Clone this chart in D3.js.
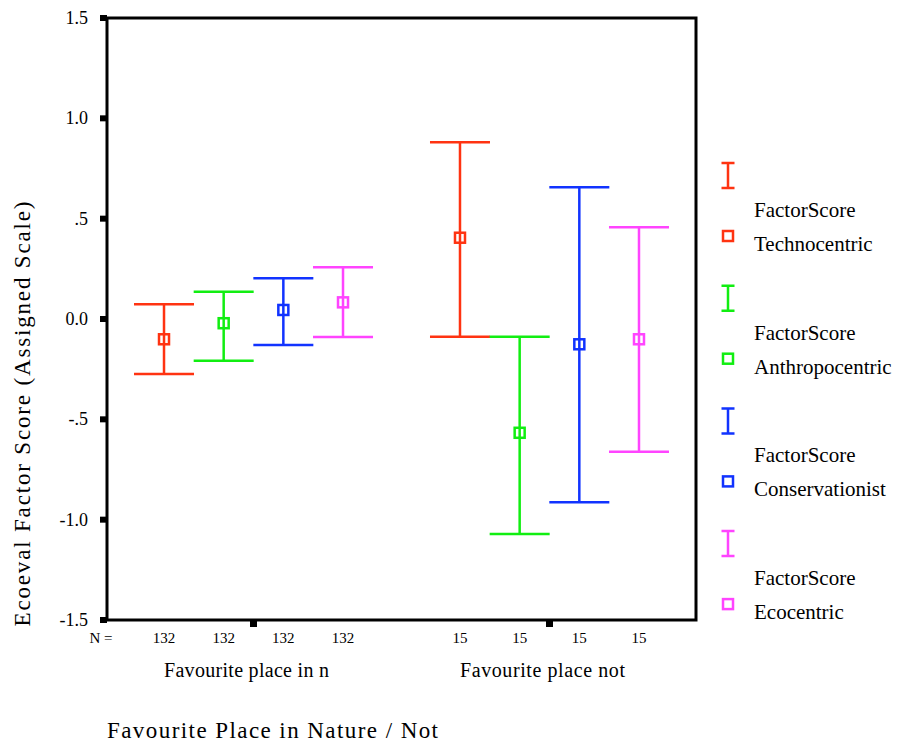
<!DOCTYPE html>
<html>
<head>
<meta charset="utf-8">
<script src="https://cdn.jsdelivr.net/npm/d3@7"></script>
<style>
  body { margin: 0; background: #fff; }
</style>
</head>
<body>
<svg class="chart"></svg>
<script>
const width = 898;
const height = 744;

// data
const groups = ['Favourite place in n', 'Favourite place not'];
const groupN = [132, 15];
const series = ['Technocentric', 'Anthropocentric', 'Conservationist', 'Ecocentric'];
const colors = ['#ff3311', '#11ee11', '#1133ff', '#ff44ff'];
const means = [[-0.101, -0.021, 0.045, 0.083], [0.405, -0.567, -0.126, -0.101]];
const lower = [[-0.274, -0.208, -0.130, -0.090], [-0.088, -1.071, -0.913, -0.661]];
const upper = [[0.073, 0.136, 0.203, 0.258], [0.881, -0.088, 0.656, 0.457]];
const yTicks = [1.5, 1.0, 0.5, 0.0, -0.5, -1.0, -1.5];
const yTickLabels = ['1.5', '1.0', '.5', '0.0', '-.5', '-1.0', '-1.5'];

const plotL = 107, plotR = 696, plotT = 18, plotB = 620;
const serif = '"Liberation Serif", "Times New Roman", serif';

const chart = d3.select('.chart')
    .attr('width', width)
    .attr('height', height);

const yScale = d3.scaleLinear()
    .domain([-1.5, 1.5])
    .range([plotB, plotT]);

const xGroup = d3.scalePoint()
    .domain(groups)
    .range([plotL, plotR])
    .padding(0.495);

const xInner = d3.scalePoint()
    .domain(series)
    .range([-89.5, 89.5]);

const capW = 60;

/*----- frame + ticks ------*/
chart.append('rect')
    .attr('x', plotL).attr('y', plotT)
    .attr('width', plotR - plotL).attr('height', plotB - plotT)
    .attr('fill', 'none')
    .attr('stroke', '#000')
    .attr('stroke-width', 3);

chart.append('g')
    .selectAll('line')
    .data(yTicks)
    .enter()
    .append('line')
    .attr('x1', plotL - 7).attr('x2', plotL)
    .attr('y1', d => yScale(d)).attr('y2', d => yScale(d))
    .attr('stroke', '#000')
    .attr('stroke-width', 6);

chart.append('g')
    .selectAll('text')
    .data(yTicks)
    .enter()
    .append('text')
    .attr('x', 88)
    .attr('y', d => yScale(d) + 6)
    .attr('text-anchor', 'end')
    .style('font-family', serif)
    .style('font-size', '18px')
    .text((d, i) => yTickLabels[i]);

chart.append('g')
    .selectAll('line')
    .data(groups)
    .enter()
    .append('line')
    .attr('x1', d => xGroup(d)).attr('x2', d => xGroup(d))
    .attr('y1', plotB).attr('y2', plotB + 7)
    .attr('stroke', '#000')
    .attr('stroke-width', 7);

// N = counts
chart.append('text')
    .attr('x', 101).attr('y', 643)
    .attr('text-anchor', 'middle')
    .style('font-family', serif)
    .style('font-size', '15px')
    .text('N =');

groups.forEach((g, gi) => {
    chart.append('g')
        .selectAll('text')
        .data(series)
        .enter()
        .append('text')
        .attr('x', s => xGroup(g) + xInner(s))
        .attr('y', 643)
        .attr('text-anchor', 'middle')
        .style('font-family', serif)
        .style('font-size', '15px')
        .text(groupN[gi]);

    chart.append('text')
        .attr('x', xGroup(g) - 7)
        .attr('y', 677)
        .attr('text-anchor', 'middle')
        .attr('textLength', 165)
        .attr('lengthAdjust', 'spacing')
        .style('font-family', serif)
        .style('font-size', '20px')
        .text(g);
});

/*----- error bars ------*/
groups.forEach((g, gi) => {
    const bars = chart.append('g')
        .selectAll('g')
        .data(series)
        .enter()
        .append('g')
        .attr('stroke', (s, i) => colors[i])
        .attr('stroke-width', 2.5)
        .attr('fill', 'none');

    const cx = s => xGroup(g) + xInner(s);

    bars.append('line')
        .attr('x1', cx).attr('x2', cx)
        .attr('y1', (s, i) => yScale(upper[gi][i]))
        .attr('y2', (s, i) => yScale(lower[gi][i]));

    bars.append('line')
        .attr('x1', s => cx(s) - capW / 2).attr('x2', s => cx(s) + capW / 2)
        .attr('y1', (s, i) => yScale(upper[gi][i]))
        .attr('y2', (s, i) => yScale(upper[gi][i]));

    bars.append('line')
        .attr('x1', s => cx(s) - capW / 2).attr('x2', s => cx(s) + capW / 2)
        .attr('y1', (s, i) => yScale(lower[gi][i]))
        .attr('y2', (s, i) => yScale(lower[gi][i]));

    bars.append('rect')
        .attr('x', s => cx(s) - 5)
        .attr('y', (s, i) => yScale(means[gi][i]) - 5)
        .attr('width', 10)
        .attr('height', 10);
});

/*----- axis titles ------*/
chart.append('text')
    .attr('transform', 'translate(30, 414) rotate(-90)')
    .attr('text-anchor', 'middle')
    .attr('textLength', 425)
    .attr('lengthAdjust', 'spacing')
    .style('font-family', serif)
    .style('font-size', '23px')
    .text('Ecoeval Factor Score (Assigned Scale)');

chart.append('text')
    .attr('x', 107).attr('y', 738)
    .attr('textLength', 331)
    .attr('lengthAdjust', 'spacing')
    .style('font-family', serif)
    .style('font-size', '23px')
    .text('Favourite Place in Nature / Not');

/*----- legend ------*/
const legend = chart.append('g')
    .selectAll('g')
    .data(series)
    .enter()
    .append('g')
    .attr('transform', (s, i) => `translate(728, ${236 + i * 122.7})`);

legend.append('path')
    .attr('d', 'M-6.5,-73H6.5M0,-73V-48M-6.5,-48H6.5')
    .attr('stroke', (s, i) => colors[i])
    .attr('stroke-width', 2.5)
    .attr('fill', 'none');

legend.append('rect')
    .attr('x', -5).attr('y', -5)
    .attr('width', 10).attr('height', 10)
    .attr('fill', 'none')
    .attr('stroke', (s, i) => colors[i])
    .attr('stroke-width', 2.5);

legend.append('text')
    .attr('x', 26).attr('y', -19)
    .style('font-family', serif)
    .style('font-size', '21px')
    .text('FactorScore');

legend.append('text')
    .attr('x', 26).attr('y', 15)
    .style('font-family', serif)
    .style('font-size', '21px')
    .text(s => s);
</script>
</body>
</html>
